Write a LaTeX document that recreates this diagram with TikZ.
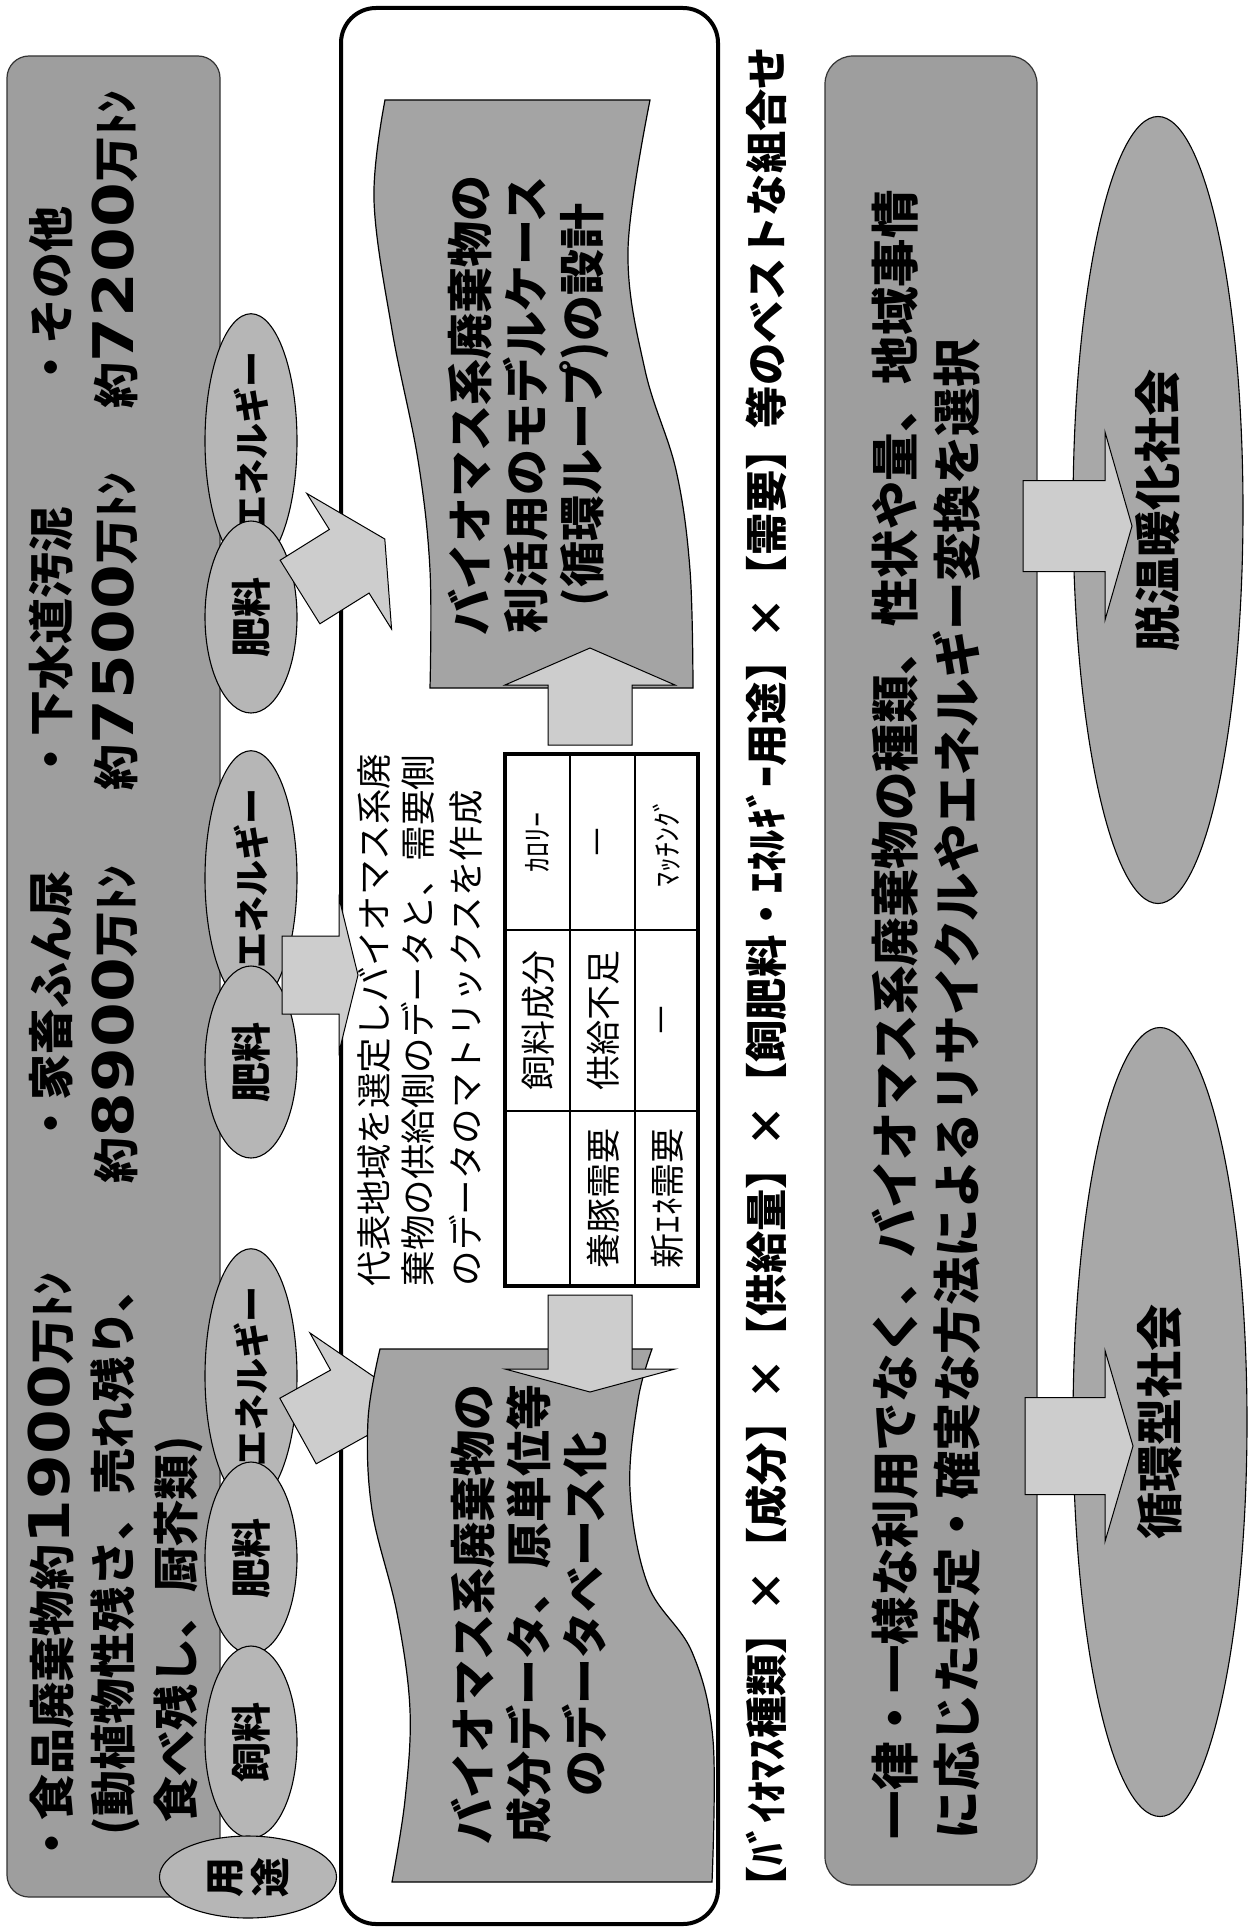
\documentclass[tikz,border=0pt]{standalone}
\usepackage{fontspec}
\usepackage{graphicx}
\setmainfont{Noto Sans CJK JP}
\newfontfamily\numfont{DejaVu Sans}
\usetikzlibrary{shapes.geometric}
\definecolor{boxgray}{RGB}{158,158,158}
\definecolor{docgray}{RGB}{164,164,164}
\definecolor{ellgray}{RGB}{182,182,182}
\definecolor{rellgray}{RGB}{168,168,168}
\definecolor{arrgray}{RGB}{205,205,205}
\newcommand{\bnum}[1]{\scalebox{1.15}[1]{\numfont\bfseries\fontsize{56}{60}\selectfont #1}}
\newcommand{\barrow}[7]{%
  \begin{scope}[shift={(#1,#2)},rotate=#3]
    \filldraw[arrstyle] (0,-#5/2) -- (#4,-#5/2) -- (#4,-#7/2) -- ({#4+#6},0) -- (#4,#7/2) -- (#4,#5/2) -- (0,#5/2) -- cycle;
  \end{scope}}
\tikzset{
  arrstyle/.style={fill=arrgray, draw=black, line width=1pt, line join=miter},
  rt/.style={rotate=90, inner sep=0pt, outer sep=0pt},
  ltxt/.style={rt, anchor=west, font=\bfseries\fontsize{46}{52}\selectfont},
  rtxt/.style={rt, anchor=west, font=\bfseries\fontsize{48.5}{54}\selectfont},
  ptxt/.style={rt, anchor=west, font=\fontsize{35.5}{40}\selectfont},
  doctxt/.style={rt, align=center, font=\bfseries\fontsize{46}{56}\selectfont},
  celltxt/.style={rt, font=\fontsize{35}{40}\selectfont},
  smalltxt/.style={rt, font=\fontsize{30}{34}\selectfont},
  lell/.style={ellipse, draw=black, line width=1.1pt, fill=ellgray, rotate=90,
    minimum width=192pt, minimum height=92pt, inner sep=0pt, font=\bfseries\fontsize{40}{44}\selectfont},
  rell/.style={ellipse, draw=black, line width=1.1pt, fill=rellgray, rotate=90,
    inner sep=0pt, font=\bfseries\fontsize{47}{52}\selectfont},
  docshape/.style={fill=docgray, draw=black, line width=1.2pt},
  graybox/.style={fill=boxgray, draw=black!80, line width=1.2pt},
}
\begin{document}
\begin{tikzpicture}[x=1pt,y=-1pt]
\path[use as bounding box, fill=white] (0,0) rectangle (1255,1932);

% ---------- left box ----------
\filldraw[graybox, rounded corners=22pt] (7,56) rectangle (220,1897);
\node[ltxt] (t11) at (51,1866) {・食品廃棄物約\bnum{1900}万ﾄﾝ};
\node[ltxt] (t12) at (51,1146) {・家畜ふん尿};
\node[ltxt] (t13) at (51,782) {・下水道汚泥};
\node[ltxt] (t14) at (51,390) {・その他};
\node[ltxt] (t21) at (115,1835) {(動植物性残さ、売れ残り、};
\node[ltxt] (t22) at (115,1183) {約\bnum{8900}万ﾄﾝ};
\node[ltxt] (t23) at (115,790) {約\bnum{7500}万ﾄﾝ};
\node[ltxt] (t24) at (115,408) {約\bnum{7200}万ﾄﾝ};
\node[ltxt] (t31) at (178,1822) {食べ残し、厨芥類)};

% ---------- middle box ----------
\filldraw[fill=white, draw=black, line width=4pt, rounded corners=35pt] (341,8) rectangle (718,1924);

% ---------- left ellipses ----------
\node[lell] (ea) at (251,441) {\fontsize{36}{40}\selectfont エネルギー};
\node[lell] (fa) at (251,617) {肥料};
\node[lell] (eb) at (251,878) {\fontsize{36}{40}\selectfont エネルギー};
\node[lell] (fb) at (251,1062) {肥料};
\node[lell] (ec) at (251,1376) {\fontsize{36}{40}\selectfont エネルギー};
\node[lell] (fc) at (251,1558) {肥料};
\node[lell] (sc) at (251,1742) {飼料};
\node[ellipse, draw=black, line width=1.1pt, fill=ellgray, rotate=90, minimum width=82pt,
  minimum height=177pt, inner sep=0pt, align=center, font=\bfseries\fontsize{40}{46}\selectfont]
  (yoto) at (248,1877) {用\\途};

% ---------- left arrows ----------
\barrow{300}{592}{32}{58}{75}{42}{160}
\barrow{282}{975}{0}{57}{78}{19}{154}
\barrow{298}{1431}{29}{58}{75}{40}{160}

% ---------- documents ----------
\filldraw[docshape] plot[smooth, tension=0.6] coordinates {(385,100) (374,200) (392,330) (418,460) (430,570) (430,688)}
  -- plot[smooth, tension=0.6] coordinates {(693,688) (690,570) (676,470) (645,370) (628,250) (650,100)} -- cycle;
\node[doctxt] (doc1) at (529,405) {バイオマス系廃棄物の\\利活用のモデルケース\\(循環ループ)の設計};

\filldraw[docshape] plot[smooth, tension=0.6] coordinates {(380,1349) (368,1420) (372,1510) (397,1613) (410,1710) (405,1800) (392,1882)}
  -- plot[smooth, tension=0.6] coordinates {(712,1882) (713,1740) (692,1652) (648,1585) (630,1490) (638,1400) (652,1349)} -- cycle;
\node[doctxt] (doc2) at (529,1614) {バイオマス系廃棄物の\\成分データ、原単位等\\のデータベース化};

% middle arrows
\barrow{590}{745}{90}{60}{84}{37}{170}
\barrow{590}{1295}{-90}{74}{84}{23}{170}

% paragraph
\node[ptxt] (p1) at (374,1286) {代表地域を選定しバイオマス系廃};
\node[ptxt] (p2) at (418,1286) {棄物の供給側のデータと、需要側};
\node[ptxt] (p3) at (466,1286) {のデータのマトリックスを作成};

% table
\draw[line width=1.5pt] (570,754) -- (570,1286) (635,754) -- (635,1286)
  (505,930) -- (698,930) (505,1111) -- (698,1111);
\draw[line width=3.5pt] (505,754) rectangle (698,1286);
\node[celltxt] (c12) at (538,1020) {飼料成分};
\node[smalltxt] (c13) at (538,842) {ｶﾛﾘｰ};
\node[celltxt] (c21) at (603,1198) {養豚需要};
\node[celltxt] (c22) at (603,1020) {供給不足};
\node[celltxt] (c23) at (603,842) {－};
\node[celltxt] (c31) at (667,1198) {新ｴﾈ需要};
\node[celltxt] (c32) at (667,1020) {－};
\node[smalltxt] (c33) at (667,842) {ﾏｯﾁﾝｸﾞ};

% ---------- title ----------
\node[rt, anchor=west] (title) at (766,1908)
  {\resizebox{1861pt}{!}{\fontsize{43}{48}\selectfont\bfseries 【ﾊﾞｲｵﾏｽ種類】×【成分】×【供給量】×【飼肥料・ｴﾈﾙｷﾞｰ用途】×【需要】等のベストな組合せ}};

% ---------- right box ----------
\filldraw[graybox, rounded corners=28pt] (825,56) rectangle (1037,1885);
\node[rtxt] (r1) at (895,1839) {一律・一様な利用でなく、バイオマス系廃棄物の種類、性状や量、地域事情};
\node[rtxt] (r2) at (957,1839) {に応じた安定・確実な方法によるリサイクルやエネルギー変換を選択};

\node[rell, minimum width=787pt, minimum height=170pt] (soc1) at (1158,510) {脱温暖化社会};
\node[rell, minimum width=789pt, minimum height=174pt] (soc2) at (1160,1422) {循環型社会};

\barrow{1023}{526}{0}{82}{91}{27}{188}
\barrow{1025}{1446}{0}{80}{97}{28}{191}
\end{tikzpicture}
\end{document}
